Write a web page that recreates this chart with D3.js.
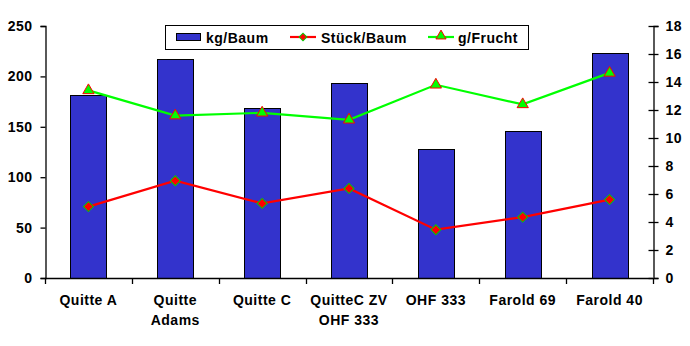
<!DOCTYPE html>
<html><head><meta charset="utf-8">
<script src="https://cdn.jsdelivr.net/npm/d3@7"></script>
<style>
body{margin:0;background:#fff;}
text{font-family:"Liberation Sans",Arial,sans-serif;font-weight:bold;font-size:14px;letter-spacing:0.5px;fill:#000;}
</style></head>
<body><svg id="c" width="690" height="346"></svg>
<script>
const categories = ["Quitte A","Quitte\nAdams","Quitte C","QuitteC ZV\nOHF 333","OHF 333","Farold 69","Farold 40"];
const kgBaum = [182, 217, 169, 193, 128, 145.5, 223];
const stueckBaum = [5.1, 6.95, 5.33, 6.4, 3.45, 4.35, 5.6];
const gFrucht = [13.4, 11.6, 11.8, 11.3, 13.8, 12.4, 14.65];
const leftTicks = [0,50,100,150,200,250];
const rightTicks = [0,2,4,6,8,10,12,14,16,18];
const seriesNames = ["kg/Baum","Stück/Baum","g/Frucht"];

const svg = d3.select("#c");
const L = 45, R = 653, T = 26, B = 278;
const x = d3.scaleBand().domain(categories).range([L, R]).padding(0);
const yL = d3.scaleLinear().domain([0,250]).range([B,T]);
const yR = d3.scaleLinear().domain([0,18]).range([B,T]);
const cx = d => x(d) + x.bandwidth()/2;
const bw = x.bandwidth()*0.415;

// bars
svg.append("g").selectAll("rect").data(categories).join("rect")
  .attr("x", (d)=>Math.round(cx(d)-bw/2)+0.5)
  .attr("y", (d,i)=>Math.round(yL(kgBaum[i]))+0.5)
  .attr("width", Math.round(bw))
  .attr("height", (d,i)=>Math.round(B - yL(kgBaum[i])))
  .attr("fill","#3333CC").attr("stroke","#000").attr("stroke-width",1);

// axes
const axL = d3.axisLeft(yL).tickValues(leftTicks).tickSize(5).tickPadding(8);
const gL = svg.append("g").attr("transform",`translate(${L+0.5},0)`).call(axL);
const axR = d3.axisRight(yR).tickValues(rightTicks).tickSize(5).tickPadding(7);
const gR = svg.append("g").attr("transform",`translate(${R+0.5},0)`).call(axR);
gR.selectAll(".tick line").attr("x1",-5);
const axB = d3.axisBottom(x).tickSize(0).tickFormat("");
const gB = svg.append("g").attr("transform",`translate(0,${B+0.5})`).call(axB);
[gL,gR,gB].forEach(g=>{
  g.select(".domain").attr("stroke","#000").attr("stroke-width",1.3);
  g.selectAll(".tick line").attr("stroke","#000").attr("stroke-width",1.3);
  g.selectAll("text").attr("font-size",null).attr("font-family",null).attr("fill","#000");
});
gB.select(".domain").attr("d",`M${L},0H${R}`);
// category boundary ticks
const bounds = categories.map(d=>x(d)).concat([R]);
svg.append("g").selectAll("line").data(bounds).join("line")
  .attr("x1",d=>Math.round(d)+0.5).attr("x2",d=>Math.round(d)+0.5)
  .attr("y1",B).attr("y2",B+6).attr("stroke","#000").attr("stroke-width",1.3);

// x labels
const xl = svg.append("g").selectAll("text").data(categories).join("text")
  .attr("text-anchor","middle")
  .attr("x",d=>cx(d)).attr("y",305);
xl.each(function(d){
  const lines = d.split("\n");
  d3.select(this).selectAll("tspan").data(lines).join("tspan")
    .attr("x",cx(d)).attr("dy",(l,i)=>i===0?0:19.5).text(l=>l);
});

// lines
const lineR = d3.line().x((d,i)=>cx(categories[i])).y(d=>yR(d));
svg.append("path").datum(stueckBaum).attr("d",lineR).attr("fill","none")
  .attr("stroke","#FF0000").attr("stroke-width",2.2);
svg.append("path").datum(gFrucht).attr("d",lineR).attr("fill","none")
  .attr("stroke","#00FF00").attr("stroke-width",2.2);

const diamond = d3.symbol().type(d3.symbolSquare).size(50);
const tri = d3.symbol().type(d3.symbolTriangle).size(55);
svg.append("g").selectAll("path").data(stueckBaum).join("path")
  .attr("d",diamond())
  .attr("transform",(d,i)=>`translate(${cx(categories[i])},${yR(d)}) rotate(45)`)
  .attr("fill","#FF0000").attr("stroke","#00CC00").attr("stroke-width",1);
svg.append("g").selectAll("path").data(gFrucht).join("path")
  .attr("d",tri())
  .attr("transform",(d,i)=>`translate(${cx(categories[i])},${yR(d)})`)
  .attr("fill","#00FF00").attr("stroke","#FF0000").attr("stroke-width",1);

// legend
const lg = svg.append("g");
lg.append("rect").attr("x",165.5).attr("y",25.5).attr("width",363).attr("height",24)
  .attr("fill","#fff").attr("stroke","#000").attr("stroke-width",1);
lg.append("rect").attr("x",176.5).attr("y",33.5).attr("width",24).attr("height",7)
  .attr("fill","#3333CC").attr("stroke","#000").attr("stroke-width",1);
lg.append("text").attr("x",206).attr("y",43).text(seriesNames[0]);
lg.append("line").attr("x1",290).attr("x2",316).attr("y1",37).attr("y2",37)
  .attr("stroke","#FF0000").attr("stroke-width",2.2);
lg.append("path").attr("d",d3.symbol().type(d3.symbolSquare).size(30)())
  .attr("transform","translate(303,37) rotate(45)")
  .attr("fill","#FF0000").attr("stroke","#00CC00").attr("stroke-width",1);
lg.append("text").attr("x",321).attr("y",43).text(seriesNames[1]);
lg.append("line").attr("x1",428).attr("x2",454).attr("y1",37).attr("y2",37)
  .attr("stroke","#00FF00").attr("stroke-width",2.2);
lg.append("path").attr("d",d3.symbol().type(d3.symbolTriangle).size(45)())
  .attr("transform","translate(441,36)")
  .attr("fill","#00FF00").attr("stroke","#FF0000").attr("stroke-width",1);
lg.append("text").attr("x",458).attr("y",43).text(seriesNames[2]);
</script></body></html>
